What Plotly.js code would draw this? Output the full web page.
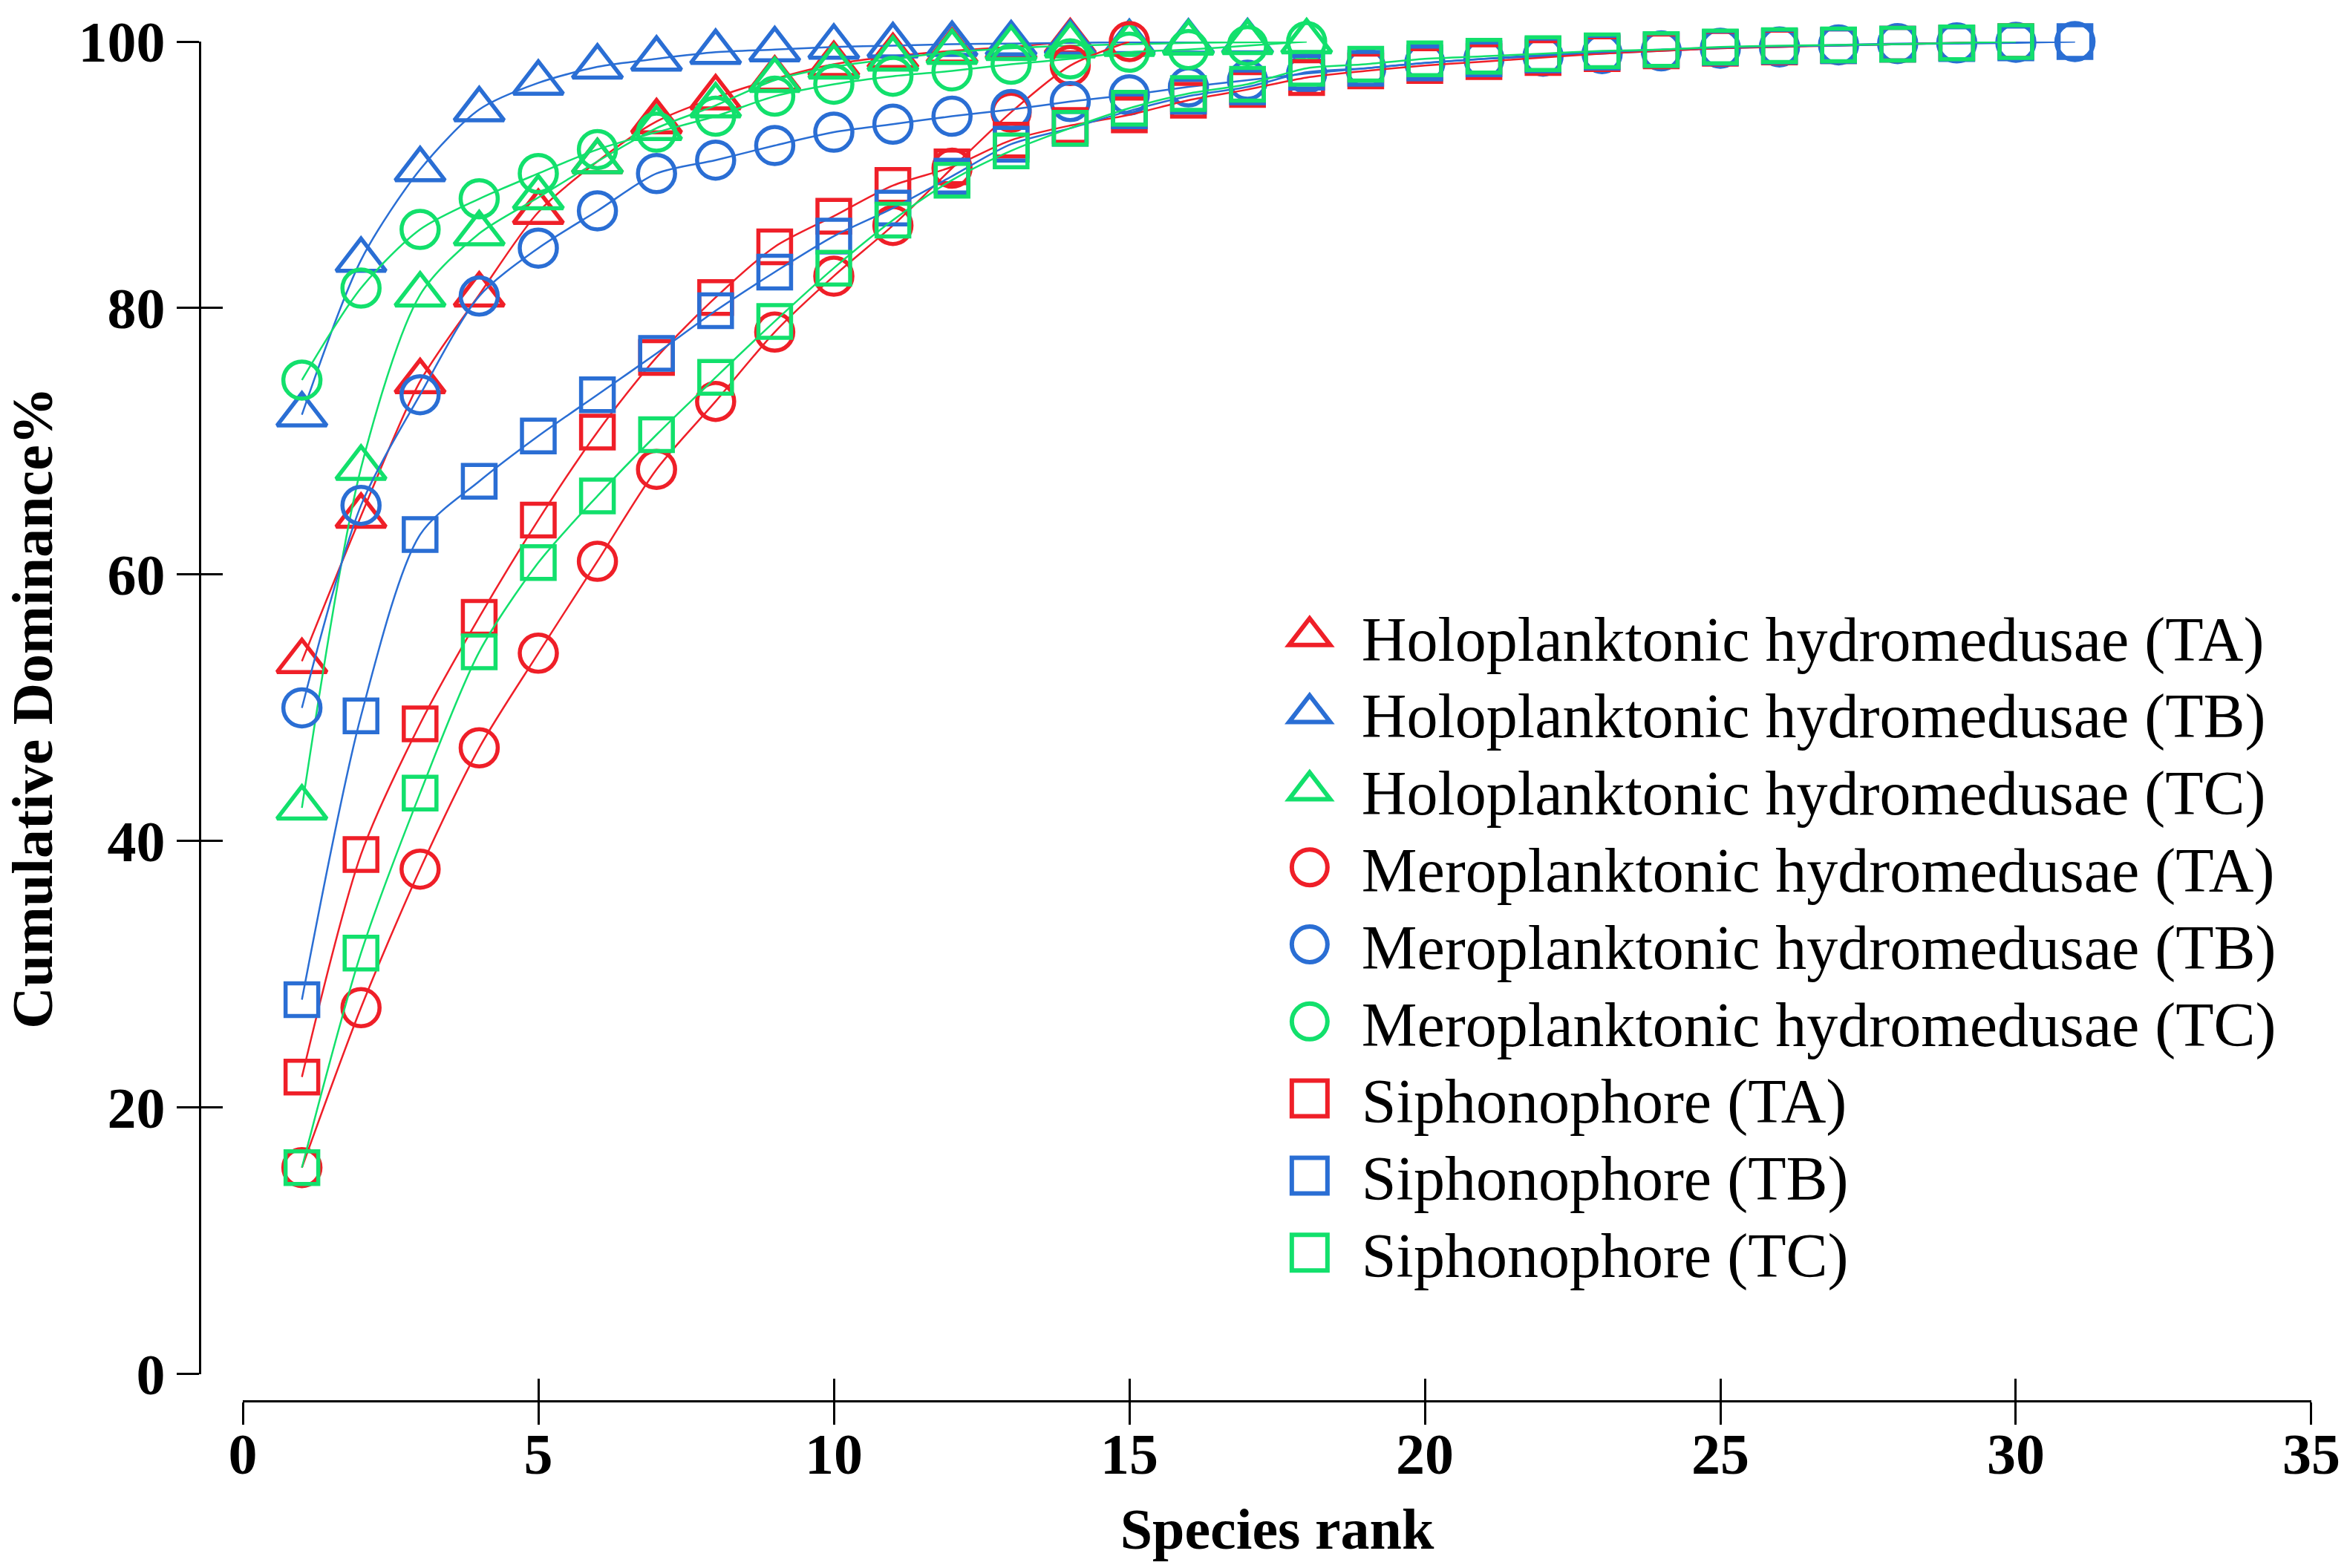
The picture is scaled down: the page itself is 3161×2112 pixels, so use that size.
<!DOCTYPE html>
<html>
<head>
<meta charset="utf-8">
<script src="https://cdn.plot.ly/plotly-3.0.1.min.js"></script>
<style>
  html, body { margin: 0; padding: 0; background: #fff; }
  #chart { width: 3161px; height: 2112px; }
</style>
</head>
<body>
<div id="chart"></div>
<script>
// ============================================
// CUMULATIVE DOMINANCE CURVES
// ============================================

const holoTA = [53.5, 64.4, 74.5, 81.0, 87.2, 91.0, 94.0, 95.8, 97.2, 98.3, 98.9, 99.3, 99.6, 100];
const holoTB = [72.0, 83.6, 90.4, 94.9, 96.9, 98.1, 98.7, 99.2, 99.4, 99.6, 99.7, 99.8, 99.85, 99.9, 99.95, 99.97, 100];
const holoTC = [42.5, 68.0, 81.0, 85.6, 88.3, 91.0, 93.5, 95.2, 97.1, 98.1, 98.7, 99.2, 99.5, 99.7, 99.8, 99.9, 99.95, 100];
const meroTA = [15.5, 27.5, 37.9, 47.0, 54.1, 61.0, 67.9, 73.0, 78.2, 82.4, 86.2, 90.5, 94.7, 98.2, 100];
const meroTB = [50.0, 65.2, 73.5, 80.9, 84.5, 87.3, 90.1, 91.1, 92.2, 93.2, 93.8, 94.4, 94.9, 95.5, 96.0, 96.6,
                97.1, 97.6, 98.0, 98.4, 98.7, 98.9, 99.1, 99.3, 99.5, 99.6, 99.75, 99.85, 99.9, 99.95, 100];
const meroTC = [74.6, 81.5, 85.9, 88.2, 90.1, 91.9, 93.2, 94.4, 95.9, 96.8, 97.4, 97.8, 98.3, 98.7, 99.2, 99.4, 99.7, 100];
const siphTA = [22.3, 39.0, 48.8, 56.8, 64.1, 70.7, 76.3, 80.8, 84.6, 86.9, 89.2, 90.6, 92.6, 93.7, 94.5, 95.6,
                96.4, 97.3, 97.8, 98.2, 98.5, 98.8, 99.1, 99.3, 99.5, 99.6, 99.7, 99.8, 99.9, 100];
const siphTB = [28.1, 49.4, 63.0, 67.0, 70.4, 73.5, 76.6, 79.8, 82.7, 85.4, 87.5, 89.9, 92.3, 93.5, 94.8, 95.9,
                96.6, 97.7, 98.0, 98.4, 98.7, 99.0, 99.2, 99.4, 99.55, 99.65, 99.7, 99.8, 99.85, 99.9, 100];
const siphTC = [15.5, 31.6, 43.6, 54.2, 60.9, 65.9, 70.5, 74.8, 79.0, 83.0, 86.6, 89.6, 91.8, 93.5, 95.0, 96.1,
                96.8, 98.0, 98.3, 98.7, 98.9, 99.1, 99.3, 99.4, 99.6, 99.7, 99.75, 99.8, 99.9, 100];

const seriesNames = [
    'Holoplanktonic hydromedusae (TA)', 'Holoplanktonic hydromedusae (TB)', 'Holoplanktonic hydromedusae (TC)',
    'Meroplanktonic hydromedusae (TA)', 'Meroplanktonic hydromedusae (TB)', 'Meroplanktonic hydromedusae (TC)',
    'Siphonophore (TA)', 'Siphonophore (TB)', 'Siphonophore (TC)'
];
const seriesValues = [holoTA, holoTB, holoTC, meroTA, meroTB, meroTC, siphTA, siphTB, siphTC];

const xTicks = [0, 5, 10, 15, 20, 25, 30, 35];
const yTicks = [0, 20, 40, 60, 80, 100];

const RED = '#ef1f28';
const BLUE = '#2a6ed4';
const GREEN = '#12e06c';
const colors = [RED, BLUE, GREEN];
const symbols = ['triangle-up-open', 'circle-open', 'square-open'];
const sizes = [58, 50, 44];
const serif = 'Liberation Serif, Times New Roman, serif';

const LEGEND_ROW = 103.8;   // px between legend entries
const LEGEND_SCALE = 3.0;   // legend markers drawn at plot size

const data = seriesValues.map((vals, i) => ({
    x: vals.map((v, k) => k + 1),
    y: vals,
    name: seriesNames[i],
    type: 'scatter',
    mode: 'lines+markers',
    cliponaxis: false,
    line: { color: colors[i % 3], width: 2.5, shape: 'spline', smoothing: 0.8 },
    marker: {
        symbol: symbols[Math.floor(i / 3)],
        size: sizes[Math.floor(i / 3)],
        color: colors[i % 3],
        line: { color: colors[i % 3], width: 5.5 }
    }
}));

// empty trace so the overlay axes (inner half of the ticks) get drawn
data.push({ x: [], y: [], xaxis: 'x2', yaxis: 'y2', type: 'scatter', mode: 'markers', showlegend: false, hoverinfo: 'skip' });

const tickFont = { family: serif, size: 78, color: '#000', weight: 'bold' };
const titleFont = { family: serif, size: 78, color: '#000', weight: 'bold' };
const xDomain = [0.0204, 1];
const yDomain = [0.0197, 1];

const layout = {
    width: 3161,
    height: 2112,
    paper_bgcolor: '#fff',
    plot_bgcolor: 'rgba(0,0,0,0)',
    margin: { t: 56, r: 48, b: 225, l: 269 },
    showlegend: true,
    legend: {
        x: 0.501, y: 0.596, xanchor: 'left', yanchor: 'top',
        bgcolor: 'rgba(0,0,0,0)',
        font: { family: serif, size: 84, color: '#000' },
        itemwidth: 130,
        tracegroupgap: 0
    },
    xaxis: {
        domain: xDomain, anchor: 'free', position: 0,
        range: [0, 35], tickvals: xTicks,
        showgrid: false, zeroline: false,
        showline: true, linecolor: '#000', linewidth: 3,
        ticks: 'outside', ticklen: 30, tickwidth: 3, tickcolor: '#000',
        tickfont: tickFont, ticklabelstandoff: -28,
        automargin: false,
        title: { text: 'Species rank', font: titleFont, standoff: 30 }
    },
    yaxis: {
        domain: yDomain, anchor: 'free', position: 0,
        range: [0, 100], tickvals: yTicks,
        showgrid: false, zeroline: false,
        showline: true, linecolor: '#000', linewidth: 3,
        ticks: 'outside', ticklen: 30, tickwidth: 3, tickcolor: '#000',
        tickfont: tickFont,
        automargin: false,
        title: { text: 'Cumulative Dominance%', font: titleFont, standoff: 90 }
    },
    xaxis2: {
        domain: xDomain, anchor: 'free', position: 0, overlaying: 'x',
        range: [0, 35], tickvals: xTicks, showticklabels: false,
        showgrid: false, zeroline: false, showline: false,
        ticks: 'inside', ticklen: 30, tickwidth: 3, tickcolor: '#000'
    },
    yaxis2: {
        domain: yDomain, anchor: 'free', position: 0, overlaying: 'y',
        range: [0, 100], tickvals: yTicks, showticklabels: false,
        showgrid: false, zeroline: false, showline: false,
        ticks: 'inside', ticklen: 30, tickwidth: 3, tickcolor: '#000'
    }
};

const config = { displayModeBar: false, staticPlot: true };

Plotly.newPlot('chart', data, layout, config).then(gd => {
    // legend shows only the open markers, at their plotted size
    gd.querySelectorAll('.legend .legendlines').forEach(g => { g.style.display = 'none'; });
    gd.querySelectorAll('.legend .legendpoints path.scatterpts').forEach(p => {
        const t = p.getAttribute('transform') || '';
        p.setAttribute('transform', t + ' scale(' + LEGEND_SCALE + ')');
        p.style.strokeWidth = (6 / LEGEND_SCALE) + 'px';
    });

    // tighten the entry spacing to the original's line pitch
    let firstY = null;
    gd.querySelectorAll('.legend g.traces').forEach((g, i) => {
        const m = /translate\(\s*([-\d.]+)[\s,]+([-\d.]+)\s*\)/.exec(g.getAttribute('transform') || '');
        if (!m) return;
        if (firstY === null) firstY = parseFloat(m[2]);
        g.setAttribute('transform', 'translate(' + m[1] + ',' + (firstY + i * LEGEND_ROW) + ')');
    });
});
</script>
</body>
</html>
